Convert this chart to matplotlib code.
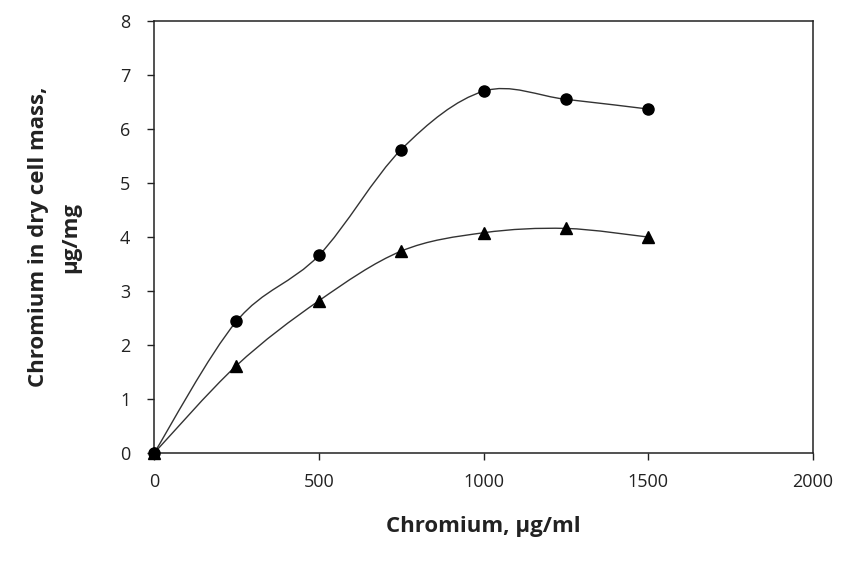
import matplotlib
matplotlib.use('Agg')
import matplotlib.pyplot as plt
from matplotlib.path import Path
import matplotlib.patches as patches

# Chromium in medium (ug/ml)
conc = [0, 250, 500, 750, 1000, 1250, 1500]
# Chromium in dry cell mass (ug/mg)
circles = [0, 2.44, 3.66, 5.62, 6.70, 6.55, 6.37]
triangles = [0, 1.62, 2.82, 3.74, 4.08, 4.16, 4.00]

plt.rcParams['font.family'] = ['Open Sans', 'DejaVu Sans']


def smooth_path(xs, ys):
    """Excel-style smoothed line as cubic Bezier segments."""
    pts = list(zip(xs, ys))
    n = len(pts)
    verts = [pts[0]]
    codes = [Path.MOVETO]
    for i in range(n - 1):
        p0 = pts[i - 1] if i > 0 else pts[i]
        p1 = pts[i]
        p2 = pts[i + 1]
        p3 = pts[i + 2] if i + 2 < n else pts[i + 1]
        c1 = (p1[0] + (p2[0] - p0[0]) / 6, p1[1] + (p2[1] - p0[1]) / 6)
        c2 = (p2[0] - (p3[0] - p1[0]) / 6, p2[1] - (p3[1] - p1[1]) / 6)
        verts += [c1, c2, p2]
        codes += [Path.CURVE4] * 3
    return Path(verts, codes)


fig = plt.figure(figsize=(8.42, 5.65), dpi=100)
ax = fig.add_axes([0.183, 0.198, 0.7826, 0.7648])

for ys, marker, ms in [(circles, 'o', 8), (triangles, '^', 8)]:
    ax.add_patch(patches.PathPatch(smooth_path(conc, ys), facecolor='none',
                                   edgecolor='#333333', linewidth=1.0))
    ax.plot(conc, ys, linestyle='none', marker=marker, markersize=ms,
            color='black', clip_on=False, zorder=3)

ax.set_xlim(0, 2000)
ax.set_ylim(0, 8)
ax.set_xticks([0, 500, 1000, 1500, 2000])
ax.set_yticks(range(0, 9))
ax.tick_params(direction='out', length=5, width=1, labelsize=13, colors='#222222')
ax.tick_params(axis='y', pad=12)
ax.tick_params(axis='x', pad=9)
for s in ax.spines.values():
    s.set_color('#222222')
    s.set_linewidth(1.1)

ax.set_xlabel('Chromium, µg/ml', fontsize=16, fontweight='bold', labelpad=18, color='#222222')
ax.set_ylabel('Chromium in dry cell mass,\nµg/mg', fontsize=16, fontweight='bold',
              labelpad=28, color='#222222', linespacing=1.7)

fig.savefig('out.png', dpi=100)
